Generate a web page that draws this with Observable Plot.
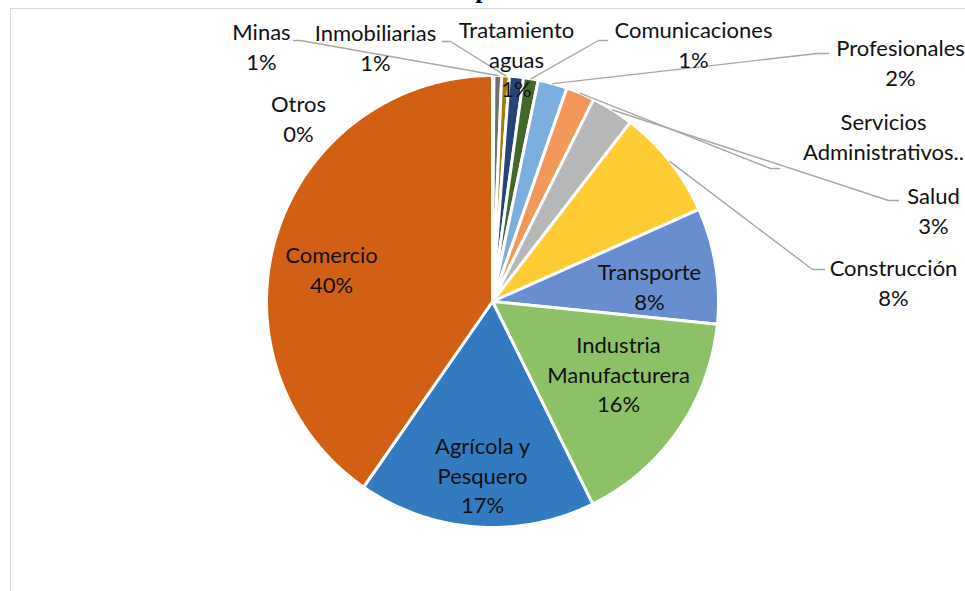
<!DOCTYPE html>
<html>
<head>
<meta charset="utf-8">
<script src="https://cdn.jsdelivr.net/npm/d3@7"></script>
<script src="https://cdn.jsdelivr.net/npm/@observablehq/plot@0.6"></script>
<style>
html,body{margin:0;padding:0;background:#fff;overflow:hidden;width:965px;height:591px;}
#chart{position:absolute;left:0;top:0;}
#title{position:absolute;left:0;width:984px;top:-55px;text-align:center;font:bold 26px "Liberation Serif",serif;line-height:30px;color:#000;white-space:nowrap;}
#frame{position:absolute;left:9.5px;top:7.5px;width:1200px;height:800px;border-left:1.5px solid #D9D9D9;border-top:1.5px solid #D9D9D9;pointer-events:none;}
</style>
</head>
<body>
<div id="chart"></div>
<div id="title">Distribución por sector económico de la<br>empresa.</div>
<div id="frame"></div>
<script>
// ---- data (clockwise from 12 o'clock) ----
const sectors = ["Otros","Minas","Inmobiliarias","Tratamiento aguas","Comunicaciones","Profesionales","Servicios Administrativos","Salud","Construcción","Transporte","Industria Manufacturera","Agrícola y Pesquero","Comercio"];
const shares  = [0.1, 0.55, 0.55, 1.0, 1.05, 2.1, 2.05, 3.05, 7.9, 8.3, 16.1, 17.0, 40.4];
const colors  = ["#A5A5A5","#6F6F6F","#A67C00","#264478","#43682B","#7CAFDD","#F1975A","#B7B7B7","#FFCD33","#698ED0","#8CC168","#337AC0","#D16014"];
const labelText = ["Otros","Minas","Inmobiliarias","Tratamiento\naguas","Comunicaciones","Profesionales","Servicios\nAdministrativos..","Salud","Construcción","Transporte","Industria\nManufacturera","Agrícola y\nPesquero","Comercio"];
const showPct = [true,true,true,true,true,true,false,true,true,true,true,true,true];

// ---- layout ----
const CX = 492, CY = 301, R = 226;
const labelAt = [[298,117],[261,45],[375,46],[516,58],[693,43],[900,61],[883,135],[933,209],[893,281],[649,285],[618,373],[482,474],[331,268]];
const leaderVia = [null,[[300,40],[293,40]],[[450,41],[442,41]],null,[[598,40],[607,40]],[[817,53],[828,53]],[[770,168],[779,168]],[[888,200],[898,200]],[[812,269],[824,269]],null,null,null,null];

const total = d3.sum(shares);
const arcs = d3.pie().sort(null).value(d => d)(shares);
const slices = arcs.map((a, i) => {
  const n = Math.max(2, Math.ceil((a.endAngle - a.startAngle) / (Math.PI / 360)));
  const ring = [[0, 0]];
  for (let k = 0; k <= n; k++) {
    const t = a.startAngle + (a.endAngle - a.startAngle) * k / n;
    ring.push([R * Math.sin(t), -R * Math.cos(t)]);
  }
  ring.push([0, 0]);
  return {type: "Feature", properties: {sector: sectors[i], color: colors[i]}, geometry: {type: "Polygon", coordinates: [ring]}};
});

const fmt = d3.format(".0%");
const labels = sectors.map((s, i) => ({
  sector: s,
  x: labelAt[i][0] - CX,
  y: labelAt[i][1] - CY,
  text: showPct[i] ? `${labelText[i]}\n${fmt(shares[i] / total)}` : labelText[i]
}));

const leaders = [];
arcs.forEach((a, i) => {
  if (!leaderVia[i]) return;
  const m = (a.startAngle + a.endAngle) / 2;
  leaders.push({sector: sectors[i], x: R * Math.sin(m), y: -R * Math.cos(m)});
  for (const [px, py] of leaderVia[i]) leaders.push({sector: sectors[i], x: px - CX, y: py - CY});
});

const chart = Plot.plot({
  width: 965,
  height: 591,
  margin: 0,
  projection: d3.geoIdentity().translate([CX, CY]),
  color: {type: "identity"},
  style: {background: "transparent"},
  marks: [
    Plot.geo(slices, {fill: d => d.properties.color, stroke: "white", strokeWidth: 3, strokeLinejoin: "round"}),
    Plot.line(leaders, {x: "x", y: "y", z: "sector", stroke: "#A6A6A6", strokeWidth: 1.4}),
    Plot.text(labels, {x: "x", y: "y", text: "text", fontSize: 22, fontFamily: "Lato", lineHeight: 1.34, fill: "#111"})
  ]
});
document.getElementById("chart").appendChild(chart);
</script>
</body>
</html>
